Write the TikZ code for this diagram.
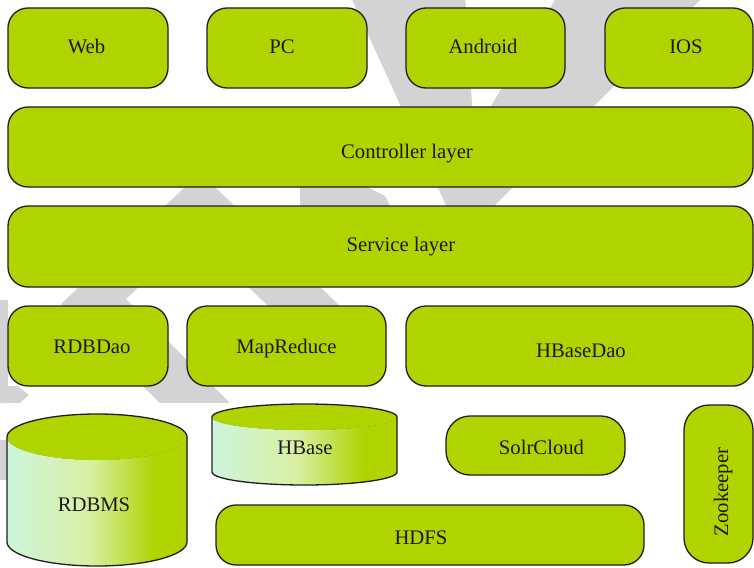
\documentclass[tikz,border=0pt]{standalone}
\usepackage{fontspec}
\setmainfont{Liberation Serif}
\definecolor{leaf}{HTML}{AFD400}
\definecolor{edge}{HTML}{1E1E1E}
\definecolor{ink}{HTML}{1A1A1A}
\definecolor{wmark}{HTML}{D3D3D3}
% side of a storage cylinder: mint on the left, full green on the right
\pgfdeclarehorizontalshading{cylside}{100bp}{%
  rgb(0bp)=(0.80,0.96,0.86); rgb(25bp)=(0.80,0.96,0.86);
  rgb(48bp)=(0.85,0.94,0.64); rgb(66bp)=(0.686,0.831,0);
  rgb(100bp)=(0.686,0.831,0)}
\begin{document}
\begin{tikzpicture}[x=1pt,y=1pt,
  box/.style={draw=edge, line width=1.3pt, fill=leaf, rounded corners=20pt,
    inner sep=0pt},
  txt/.style={text=ink, anchor=base, inner sep=0pt,
    font=\fontsize{20.7}{24}\selectfont},
  outline/.style={draw=edge, line width=1.3pt}]
\useasboundingbox (0,0) rectangle (754,-567);
\fill[white] (0,0) rectangle (754,-567);

% background stripes
\fill[wmark] (350,5) -- (465,5) -- (474,-134) -- (558,5) -- (705,5)
  -- (480,-220) -- (455,-225) -- cycle;
\fill[wmark] (200,-173) -- (61,-304) -- (177,-420) -- (247,-420)
  -- (126,-299) -- (194,-235) -- (309,-345) -- (381,-345) -- cycle;
\fill[wmark] (300,-150) -- (342,-150) -- (342,-182) -- (365,-186)
  -- (385,-196) -- (395,-215) -- (300,-215) -- cycle;
\fill[wmark] (-5,-300) -- (8,-300) -- (8,-386) -- (18,-386) -- (29,-395)
  -- (20,-403) -- (-5,-403) -- cycle;
\fill[wmark] (-5,-440) rectangle (7,-480);
\fill[white] (7,-403) rectangle (754,-567);

% clients
\node[box, minimum width=160pt, minimum height=80pt] (web) at (88,-48) {};
\node[box, minimum width=160pt, minimum height=80pt] (pc) at (287,-48) {};
\node[box, minimum width=159pt, minimum height=80pt] (android) at (485.5,-48) {};
\node[box, minimum width=148pt, minimum height=80pt] (ios) at (679,-48) {};
\node[txt] (webt) at (86.5,-54) {Web};
\node[txt] (pct) at (282,-54) {PC};
\node[txt] (androidt) at (483,-54) {Android};
\node[txt] (iost) at (686,-54) {IOS};

% layers
\node[box, minimum width=745pt, minimum height=80pt] (ctrl) at (380.5,-147) {};
\node[txt] (ctrlt) at (407,-158) {Controller layer};
\node[box, minimum width=745pt, minimum height=81pt] (svc) at (380.5,-246.5) {};
\node[txt] (svct) at (401,-251) {Service layer};

% data access
\node[box, minimum width=160pt, minimum height=80pt] (rdbdao) at (88,-346) {};
\node[box, minimum width=199pt, minimum height=80pt] (mapred) at (286.5,-346) {};
\node[box, minimum width=347pt, minimum height=80pt] (hbasedao) at (579.5,-346) {};
\node[txt] (rdbdaot) at (92,-353) {RDBDao};
\node[txt] (mapredt) at (286.5,-353) {MapReduce};
\node[txt] (hbasedaot) at (581,-357) {HBaseDao};

% RDBMS cylinder
\fill[shading=cylside] (7,-437) -- (7,-542)
  arc[start angle=180,end angle=360,x radius=90,y radius=24] -- (187,-437)
  arc[start angle=0,end angle=-180,x radius=90,y radius=23] -- cycle;
\fill[leaf] (97,-437) ellipse[x radius=90,y radius=23];
\draw[outline] (7,-542) -- (7,-437)
  arc[start angle=180,end angle=0,x radius=90,y radius=23] -- (187,-542)
  arc[start angle=0,end angle=-180,x radius=90,y radius=24] -- cycle;
\node[txt] (rdbms) at (94,-511) {RDBMS};

% HBase cylinder
\fill[shading=cylside] (212,-417) -- (212,-472)
  arc[start angle=180,end angle=360,x radius=92.5,y radius=13] -- (397,-417)
  arc[start angle=0,end angle=-180,x radius=92.5,y radius=13] -- cycle;
\fill[leaf] (304.5,-417) ellipse[x radius=92.5,y radius=13];
\draw[outline] (212,-472) -- (212,-417)
  arc[start angle=180,end angle=0,x radius=92.5,y radius=13] -- (397,-472)
  arc[start angle=0,end angle=-180,x radius=92.5,y radius=13] -- cycle;
\node[txt] (hbase) at (305,-454) {HBase};

% storage services
\node[box, rounded corners=24pt, minimum width=179pt, minimum height=59pt] (solr) at (535.5,-445.5) {};
\node[txt] (solrt) at (541.5,-454) {SolrCloud};
\node[box, minimum width=428pt, minimum height=60pt] (hdfs) at (430,-535) {};
\node[txt] (hdfst) at (421,-544) {HDFS};
\node[box, rounded corners=25pt, minimum width=69pt, minimum height=158pt] (zk) at (718.5,-484) {};
\node[txt, rotate=90] (zkt) at (728,-492) {Zookeeper};
\end{tikzpicture}
\end{document}
